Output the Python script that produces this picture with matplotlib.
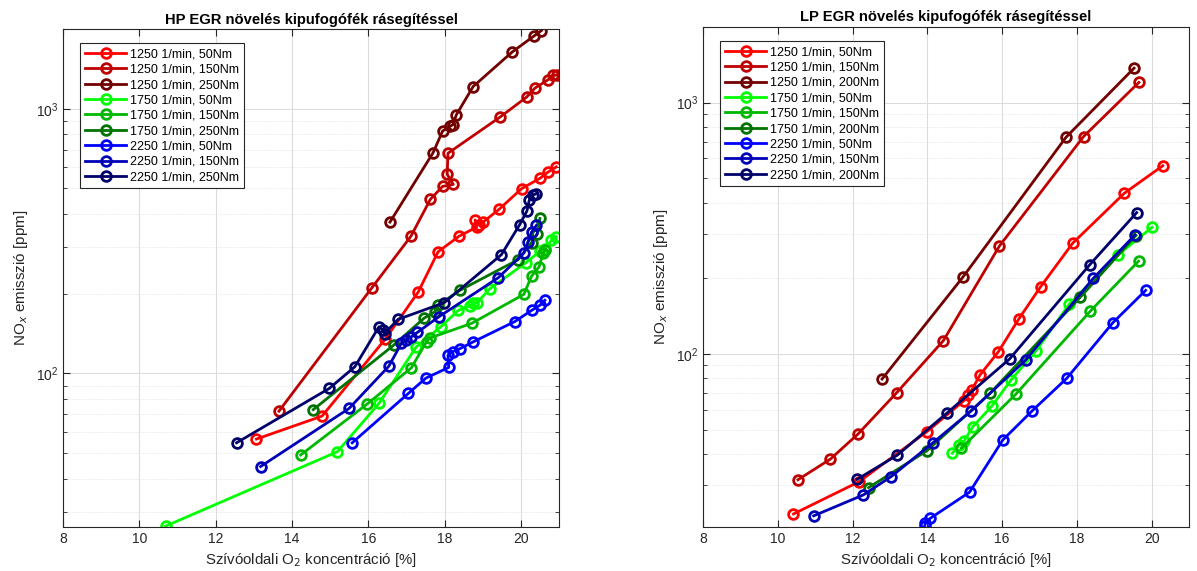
import matplotlib.pyplot as plt
from matplotlib.ticker import LogLocator, NullFormatter, FixedLocator

plt.rcParams['font.family'] = ['Liberation Sans', 'DejaVu Sans']

# HP EGR (left panel)
hp_1250_50_x = [13.07, 14.79, 16.45, 17.31, 17.83, 18.38, 18.84, 18.8, 18.9, 19.0, 19.43, 20.02, 20.51, 20.71, 20.93]
hp_1250_50_y = [56.5, 69, 135, 203, 288, 330, 357, 380, 365, 372, 417, 499, 547, 576, 603]
hp_1250_150_x = [13.66, 16.10, 17.12, 17.63, 17.95, 18.23, 18.07, 18.09, 19.45, 20.15, 20.37, 20.71, 20.85, 20.94]
hp_1250_150_y = [72, 211, 330, 455, 509, 518, 565, 679, 929, 1106, 1197, 1286, 1336, 1340]
hp_1250_250_x = [16.57, 17.70, 17.95, 18.15, 18.22, 18.31, 18.75, 19.77, 20.34, 20.54]
hp_1250_250_y = [373, 682, 824, 860, 870, 949, 1213, 1637, 1881, 1975]
hp_1750_50_x = [10.69, 15.19, 16.28, 17.26, 17.90, 18.36, 18.66, 18.75, 18.85, 19.19, 20.13, 20.50, 20.63, 20.80, 20.93]
hp_1750_50_y = [26.5, 50.6, 77, 126, 150, 173, 180, 184, 185, 209, 262, 289, 295, 318, 328]
hp_1750_150_x = [14.23, 15.97, 17.13, 17.53, 17.61, 18.71, 20.08, 20.28, 20.48, 20.58, 20.63]
hp_1750_150_y = [49.2, 76.6, 105, 132, 136, 154.6, 199, 233, 253, 284, 292]
hp_1750_250_x = [14.56, 16.67, 17.47, 17.75, 17.83, 18.40, 19.93, 20.28, 20.43, 20.50]
hp_1750_250_y = [73, 128, 162, 171, 181, 206, 269, 312, 337, 385]
hp_2250_50_x = [15.58, 17.05, 17.51, 18.11, 18.09, 18.22, 18.40, 18.75, 19.84, 20.28, 20.50, 20.63]
hp_2250_50_y = [54.7, 84, 96, 105.4, 117, 121, 124, 131.6, 157, 173, 181, 189]
hp_2250_150_x = [13.18, 15.50, 16.54, 16.87, 17.0, 17.13, 17.29, 17.86, 19.41, 20.08, 20.19, 20.28, 20.41]
hp_2250_150_y = [44.5, 73.8, 106.5, 130, 133.6, 137.5, 143, 164, 230, 285, 314, 342, 363]
hp_2250_250_x = [12.55, 14.98, 15.65, 16.28, 16.39, 16.43, 16.78, 17.99, 19.49, 19.97, 20.16, 20.22, 20.32, 20.39]
hp_2250_250_y = [54.7, 87.8, 106, 150, 146, 141.5, 160, 185, 281, 365, 411, 451, 473, 476]

# LP EGR (right panel)
lp_1250_50_x = [10.42, 12.17, 13.99, 14.97, 15.10, 15.19, 15.41, 15.90, 16.45, 17.03, 17.89, 19.27, 20.30]
lp_1250_50_y = [23.1, 31.0, 49.1, 65.0, 68.7, 71.9, 82.5, 102, 138, 185, 276, 436, 561]
lp_1250_150_x = [10.54, 11.41, 12.15, 13.18, 14.43, 15.93, 18.18, 19.66]
lp_1250_150_y = [31.6, 38.2, 48.1, 70.1, 113, 269, 733, 1203]
lp_1250_200_x = [12.79, 14.95, 17.71, 19.53]
lp_1250_200_y = [79.5, 202, 728, 1371]
lp_1750_50_x = [14.67, 14.85, 14.99, 15.22, 15.73, 16.24, 16.91, 17.80, 19.10, 20.01]
lp_1750_50_y = [40.3, 43.5, 45.2, 51.4, 62.1, 78.8, 103, 158, 248, 319]
lp_1750_150_x = [14.91, 16.38, 18.36, 19.65]
lp_1750_150_y = [42.2, 69.5, 148, 234]
lp_1750_200_x = [12.43, 13.99, 15.68, 18.09, 19.58]
lp_1750_200_y = [29.4, 41.2, 69.8, 168, 296]
lp_2250_50_x = [13.93, 13.95, 14.08, 15.13, 16.02, 16.81, 17.73, 18.96, 19.84]
lp_2250_50_y = [20.7, 21.2, 22.2, 28.2, 45.5, 59.5, 80, 133, 179]
lp_2250_150_x = [10.96, 12.29, 13.03, 14.14, 15.17, 16.63, 18.44, 19.56]
lp_2250_150_y = [22.7, 27.5, 32.5, 44.2, 59.3, 94.6, 200, 298]
lp_2250_200_x = [12.12, 13.20, 14.52, 16.20, 18.34, 19.60]
lp_2250_200_y = [31.7, 39.6, 58.1, 95.5, 226, 365]

colors = [(1, 0, 0), (0.75, 0, 0), (0.45, 0, 0),
          (0, 1, 0), (0, 0.72, 0), (0, 0.45, 0),
          (0, 0, 1), (0, 0, 0.72), (0, 0, 0.42)]

hp_series = [(hp_1250_50_x, hp_1250_50_y), (hp_1250_150_x, hp_1250_150_y), (hp_1250_250_x, hp_1250_250_y),
             (hp_1750_50_x, hp_1750_50_y), (hp_1750_150_x, hp_1750_150_y), (hp_1750_250_x, hp_1750_250_y),
             (hp_2250_50_x, hp_2250_50_y), (hp_2250_150_x, hp_2250_150_y), (hp_2250_250_x, hp_2250_250_y)]
lp_series = [(lp_1250_50_x, lp_1250_50_y), (lp_1250_150_x, lp_1250_150_y), (lp_1250_200_x, lp_1250_200_y),
             (lp_1750_50_x, lp_1750_50_y), (lp_1750_150_x, lp_1750_150_y), (lp_1750_200_x, lp_1750_200_y),
             (lp_2250_50_x, lp_2250_50_y), (lp_2250_150_x, lp_2250_150_y), (lp_2250_200_x, lp_2250_200_y)]
hp_labels = ['1250 1/min, 50Nm', '1250 1/min, 150Nm', '1250 1/min, 250Nm',
             '1750 1/min, 50Nm', '1750 1/min, 150Nm', '1750 1/min, 250Nm',
             '2250 1/min, 50Nm', '2250 1/min, 150Nm', '2250 1/min, 250Nm']
lp_labels = [s.replace('250Nm', '200Nm') for s in hp_labels]

fig = plt.figure(figsize=(11.97, 5.71), dpi=100)
ax1 = fig.add_axes([0.0526, 0.0771, 0.4144, 0.872])
ax2 = fig.add_axes([0.5873, 0.0771, 0.406, 0.8757])


def style_axes(ax, title, series, labels, ylim):
    for (x, y), c, lab in zip(series, colors, labels):
        ax.plot(x, y, '-o', color=c, lw=2, ms=7, mew=2, mfc='none', label=lab)
    ax.set_yscale('log')
    ax.set_xlim(8, 21)
    ax.set_ylim(*ylim)
    ax.xaxis.set_major_locator(FixedLocator([8, 10, 12, 14, 16, 18, 20]))
    ax.yaxis.set_major_locator(LogLocator(base=10))
    ax.yaxis.set_minor_locator(LogLocator(base=10, subs=range(2, 10)))
    ax.yaxis.set_minor_formatter(NullFormatter())
    ax.grid(True, which='major', color='#dcdcdc', lw=0.8)
    ax.grid(True, which='minor', axis='y', color='#dcdcdc', lw=0.6, ls=':')
    ax.set_axisbelow(True)
    ax.tick_params(which='both', direction='in', top=True, right=True, labelsize=10,
                   colors='#262626', labelcolor='#262626')
    ax.tick_params(which='major', length=5)
    ax.tick_params(which='minor', length=3)
    for sp in ax.spines.values():
        sp.set_color('#262626')
    ax.set_title(title, fontsize=10.6, fontweight='bold', pad=4)
    ax.set_xlabel('Szívóoldali O$_2$ koncentráció [%]', fontsize=10.8, color='#262626')
    ax.set_ylabel('NO$_x$ emisszió [ppm]', fontsize=11, color='#262626')
    leg = ax.legend(loc='upper left', bbox_to_anchor=(0.022, 0.984), fontsize=9, fancybox=False,
                    framealpha=1, edgecolor='#262626', handlelength=3.3, labelspacing=0.27,
                    borderpad=0.4, handletextpad=0.3)
    leg.get_frame().set_linewidth(0.8)


style_axes(ax1, 'HP EGR növelés kipufogófék rásegítéssel', hp_series, hp_labels, (26.3, 2000))
style_axes(ax2, 'LP EGR növelés kipufogófék rásegítéssel', lp_series, lp_labels, (20.5, 2000))

fig.savefig('out.png', dpi=100)
